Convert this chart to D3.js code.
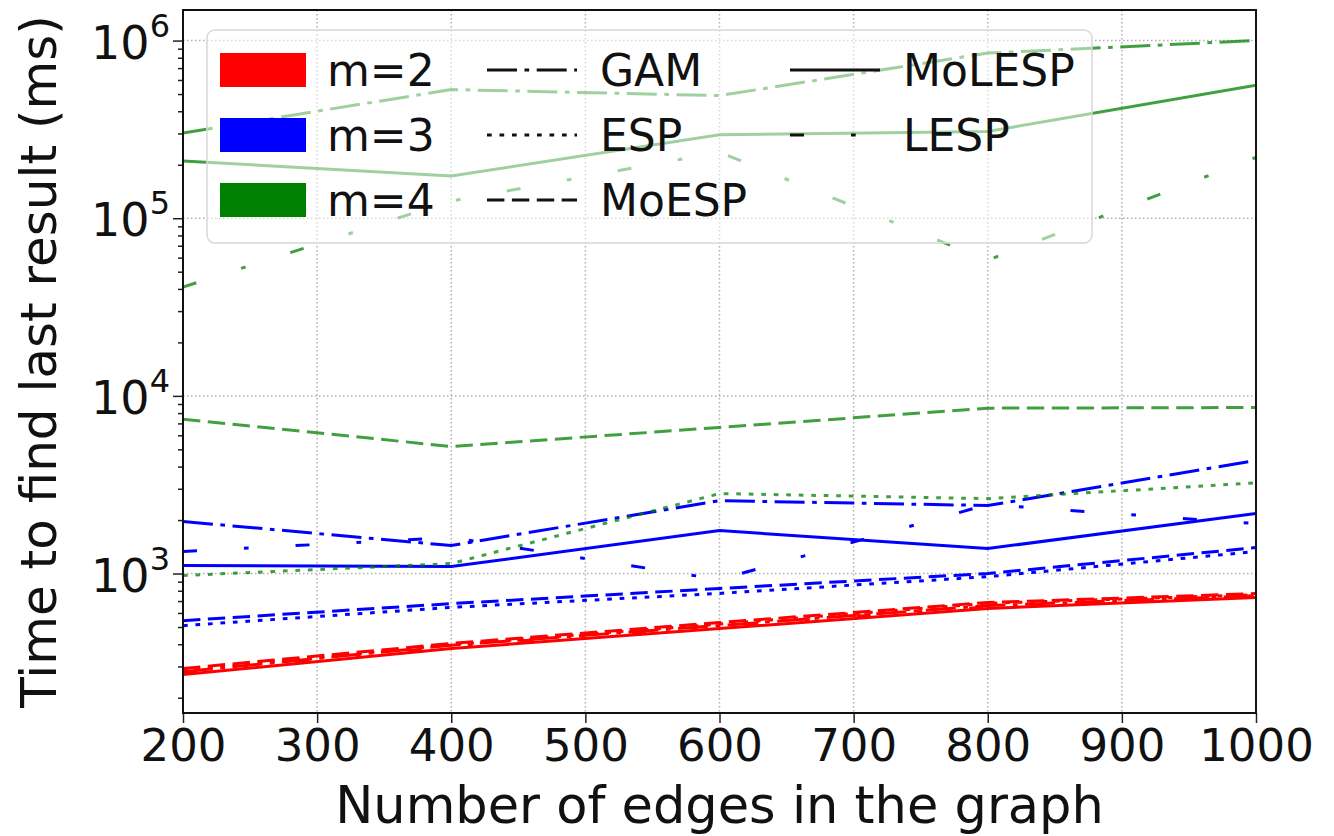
<!DOCTYPE html>
<html>
<head>
<meta charset="utf-8">
<script src="https://cdn.jsdelivr.net/npm/d3@7"></script>
<style>
  html, body { margin: 0; padding: 0; background: #fff; }
  svg { display: block; font-family: "DejaVu Sans", sans-serif; }
</style>
</head>
<body>
<svg id="chart" width="1334" height="836"></svg>
<script>
// ---------------- data ----------------
const edges = [200, 400, 600, 800, 1000];
const xTicks = [200, 300, 400, 500, 600, 700, 800, 900, 1000];
const yDecades = [3, 4, 5, 6];

// m = 2 (red)
const gam2    = [280, 395, 510, 660, 750];
const esp2    = [285, 398, 520, 680, 760];
const moesp2  = [292, 404, 530, 687, 771];
const molesp2 = [270, 378, 490, 636, 733];
const lesp2   = [275, 390, 505, 650, 745];
// m = 3 (blue)
const gam3    = [1963, 1438, 2570, 2415, 4325];
const esp3    = [509, 645, 773, 960, 1330];
const moesp3  = [543, 677, 824, 1000, 1400];
const molesp3 = [1109, 1095, 1746, 1382, 2180];
const lesp3   = [1330, 1597, 925, 2445, 1910];
// m = 4 (green)
const gam4    = [302000, 530000, 490000, 850000, 1000000];
const esp4    = [975, 1138, 2820, 2640, 3240];
const moesp4  = [7390, 5190, 6640, 8530, 8600];
const molesp4 = [210000, 173000, 295000, 308000, 560000];
const lesp4   = [41000, 125000, 235000, 58000, 220000];

const mLabels = ["m=2", "m=3", "m=4"];
const algoLabels = ["GAM", "ESP", "MoESP", "MoLESP", "LESP"];

// ---------------- styles ----------------
const colors = {"m=2": "#ff0000", "m=3": "#0000ff", "m=4": "#008000"};
const dashes = {
  "GAM": "30,7.5,4.7,7.5",
  "ESP": "4.7,7.8",
  "MoESP": "17.4,7.5",
  "MoLESP": null,
  "LESP": "14,47,4.7,47"
};

const series = [
  {m: "m=2", algo: "GAM", v: gam2}, {m: "m=2", algo: "ESP", v: esp2},
  {m: "m=2", algo: "MoESP", v: moesp2}, {m: "m=2", algo: "MoLESP", v: molesp2},
  {m: "m=2", algo: "LESP", v: lesp2},
  {m: "m=3", algo: "GAM", v: gam3}, {m: "m=3", algo: "ESP", v: esp3},
  {m: "m=3", algo: "MoESP", v: moesp3}, {m: "m=3", algo: "MoLESP", v: molesp3},
  {m: "m=3", algo: "LESP", v: lesp3},
  {m: "m=4", algo: "GAM", v: gam4}, {m: "m=4", algo: "ESP", v: esp4},
  {m: "m=4", algo: "MoESP", v: moesp4}, {m: "m=4", algo: "MoLESP", v: molesp4},
  {m: "m=4", algo: "LESP", v: lesp4}
];

// ---------------- layout ----------------
const L = 183, R = 1256, T = 10, B = 713;
const svg = d3.select("#chart");
const x = d3.scaleLinear().domain([200, 1000]).range([L, R]);
const y = d3.scaleLog().domain([Math.pow(10, 2.215), Math.pow(10, 6.172)]).range([B, T]);

// grid
const grid = svg.append("g");
grid.selectAll("line.gx").data(xTicks).enter().append("line")
  .attr("x1", d => x(d)).attr("x2", d => x(d)).attr("y1", T).attr("y2", B)
  .attr("stroke", "#b0b0b0").attr("stroke-width", 1.5).attr("stroke-dasharray", "1.5,2.5");
grid.selectAll("line.gy").data(yDecades).enter().append("line")
  .attr("x1", L).attr("x2", R).attr("y1", d => y(Math.pow(10, d))).attr("y2", d => y(Math.pow(10, d)))
  .attr("stroke", "#b0b0b0").attr("stroke-width", 1.5).attr("stroke-dasharray", "1.5,2.5");

// lines
const line = d3.line().x((d, i) => x(edges[i])).y(d => y(d));
const clip = svg.append("clipPath").attr("id", "clip").append("rect")
  .attr("x", L).attr("y", T).attr("width", R - L).attr("height", B - T);
const lines = svg.append("g").attr("clip-path", "url(#clip)");
lines.selectAll("path").data(series).enter().append("path")
  .attr("d", d => line(d.v))
  .attr("fill", "none")
  .attr("stroke", d => colors[d.m])
  .attr("stroke-width", 3)
  .attr("stroke-dasharray", d => dashes[d.algo])
  .attr("stroke-opacity", d => d.m === "m=4" ? 0.75 : 1);

// axes
const xAxis = d3.axisBottom(x).tickValues(xTicks).tickSize(10).tickPadding(6).tickFormat(d3.format("d"));
const gx = svg.append("g").attr("transform", `translate(0,${B})`).call(xAxis);
gx.select(".domain").remove();
gx.selectAll(".tick line").attr("stroke", "#222").attr("stroke-width", 1.5);
gx.selectAll(".tick text").attr("font-size", 45).attr("fill", "#111")
  .attr("font-family", "DejaVu Sans").attr("dy", "0.71em");

const minorTicks = [];
for (let e = 2; e <= 6; e++) for (let k = 1; k < 10; k++) {
  const v = k * Math.pow(10, e);
  if (v >= y.domain()[0] && v <= y.domain()[1]) minorTicks.push(v);
}
const yAxis = d3.axisLeft(y).tickValues(minorTicks)
  .tickSize(0).tickFormat("");
const gy = svg.append("g").attr("transform", `translate(${L},0)`).call(yAxis);
gy.select(".domain").remove();
gy.selectAll(".tick").append("line")
  .attr("x1", d => Math.abs(Math.log10(d) - Math.round(Math.log10(d))) < 1e-9 ? -10 : -5)
  .attr("x2", 0).attr("stroke", "#222").attr("stroke-width", 1.5);

const yLab = svg.append("g").selectAll("text").data(yDecades).enter().append("text")
  .attr("x", 170).attr("y", d => y(Math.pow(10, d)) + 18)
  .attr("text-anchor", "end").attr("fill", "#111").attr("font-size", 46);
yLab.append("tspan").text("10");
yLab.append("tspan").attr("dy", -22).attr("font-size", 32).text(d => d);

// frame
svg.append("rect").attr("x", L).attr("y", T).attr("width", R - L).attr("height", B - T)
  .attr("fill", "none").attr("stroke", "#111").attr("stroke-width", 2);

// axis titles
svg.append("text").attr("x", (L + R) / 2).attr("y", 823).attr("text-anchor", "middle")
  .attr("font-size", 51).attr("fill", "#111").text("Number of edges in the graph");
svg.append("text").attr("transform", `translate(56,${(T + B) / 2}) rotate(-90)`)
  .attr("text-anchor", "middle").attr("font-size", 50).attr("fill", "#111")
  .text("Time to find last result (ms)");

// legend
const lg = svg.append("g");
lg.append("rect").attr("x", 207).attr("y", 30).attr("width", 885).attr("height", 213)
  .attr("rx", 8).attr("fill", "#fff").attr("fill-opacity", 0.5)
  .attr("stroke", "#d8d8d8").attr("stroke-width", 1.5);
const rowY = [70, 135, 200];
mLabels.forEach((m, i) => {
  lg.append("rect").attr("x", 220).attr("y", rowY[i] - 17).attr("width", 86).attr("height", 34)
    .attr("fill", colors[m]);
  lg.append("text").attr("x", 327).attr("y", rowY[i] + 16).attr("font-size", 44)
    .attr("fill", "#111").text(m);
});
const legAlgos = [
  {a: "GAM", cx: 487, r: 0}, {a: "ESP", cx: 487, r: 1}, {a: "MoESP", cx: 487, r: 2},
  {a: "MoLESP", cx: 790, r: 0}, {a: "LESP", cx: 790, r: 1}
];
legAlgos.forEach(o => {
  lg.append("line").attr("x1", o.cx).attr("x2", o.cx + 90)
    .attr("y1", rowY[o.r]).attr("y2", rowY[o.r])
    .attr("stroke", "#111").attr("stroke-width", 3)
    .attr("stroke-dasharray", dashes[o.a]);
  lg.append("text").attr("x", o.cx + 113).attr("y", rowY[o.r] + 16).attr("font-size", 44)
    .attr("fill", "#111").text(o.a);
});
</script>
</body>
</html>
